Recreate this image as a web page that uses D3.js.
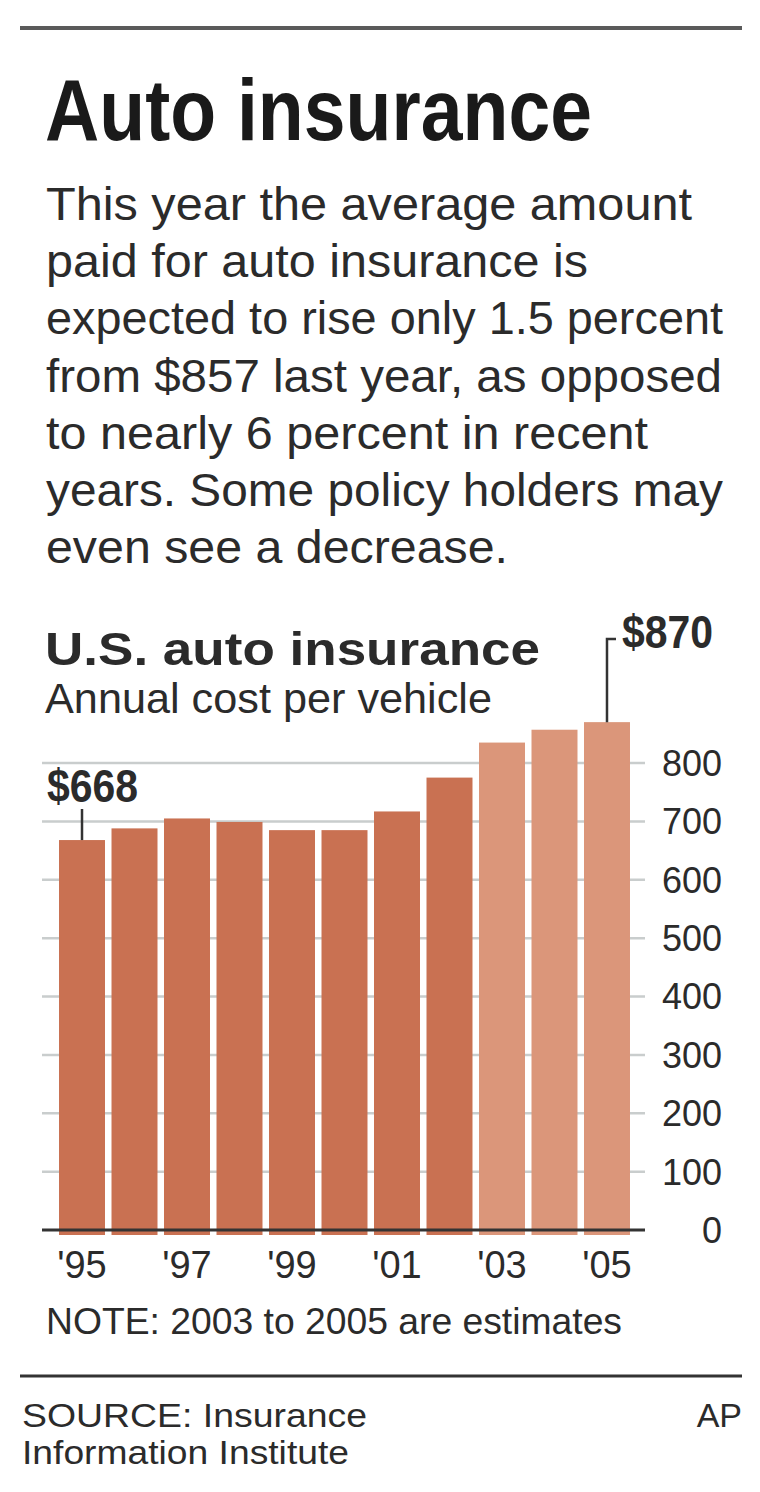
<!DOCTYPE html>
<html>
<head>
<meta charset="utf-8">
<script src="https://cdn.jsdelivr.net/npm/d3@7"></script>
<style>
  html, body { margin: 0; padding: 0; background: #fff; }
  svg { display: block; }
  text { font-family: "Liberation Sans", Arial, Helvetica, sans-serif; }
</style>
</head>
<body>
<div id="chart"></div>
<script>
// ---- data ----
const years = [1995, 1996, 1997, 1998, 1999, 2000, 2001, 2002, 2003, 2004, 2005];
const costs = [668, 688, 705, 699, 685, 685, 717, 775, 835, 857, 870];
const estimated = [false, false, false, false, false, false, false, false, true, true, true];
const yTicks = [0, 100, 200, 300, 400, 500, 600, 700, 800];
const xLabelYears = [1995, 1997, 1999, 2001, 2003, 2005];

const titleText = "Auto insurance";
const introLines = [
  "This year the average amount",
  "paid for auto insurance is",
  "expected to rise only 1.5 percent",
  "from $857 last year, as opposed",
  "to nearly 6 percent in recent",
  "years. Some policy holders may",
  "even see a decrease."
];
const chartTitle = "U.S. auto insurance";
const chartSubtitle = "Annual cost per vehicle";
const noteText = "NOTE: 2003 to 2005 are estimates";
const sourceLines = ["SOURCE: Insurance", "Information Institute"];
const creditText = "AP";

// ---- layout (pixel widths of text lines, matched to reference) ----
const introWidths = [646, 542, 677, 676, 602, 677, 462];
const sourceWidths = [345, 327];

// ---- setup ----
const W = 760, H = 1492;
const svg = d3.select("#chart").append("svg")
  .attr("width", W).attr("height", H);
svg.append("rect").attr("width", W).attr("height", H).attr("fill", "#fff");

const ink = "#2b2b2b";

// top rule
svg.append("line").attr("x1", 20).attr("x2", 742).attr("y1", 28).attr("y2", 28)
  .attr("stroke", "#5a5a5a").attr("stroke-width", 4);

// title
svg.append("text").attr("x", 45).attr("y", 140)
  .attr("font-size", 88).attr("font-weight", "bold").attr("fill", "#1a1a1a")
  .attr("textLength", 547).attr("lengthAdjust", "spacingAndGlyphs")
  .text(titleText);

// intro paragraph
svg.append("g").selectAll("text").data(introLines).join("text")
  .attr("x", 46).attr("y", (d, i) => 220 + i * 57.2)
  .attr("font-size", 46.5).attr("fill", ink)
  .attr("textLength", (d, i) => introWidths[i]).attr("lengthAdjust", "spacingAndGlyphs")
  .text(d => d);

// chart title
svg.append("text").attr("x", 45).attr("y", 665)
  .attr("font-size", 46).attr("font-weight", "bold").attr("fill", ink)
  .attr("textLength", 495).attr("lengthAdjust", "spacingAndGlyphs")
  .text(chartTitle);
svg.append("text").attr("x", 45).attr("y", 713)
  .attr("font-size", 42).attr("fill", ink)
  .attr("textLength", 447).attr("lengthAdjust", "spacingAndGlyphs")
  .text(chartSubtitle);

// scales
const x = d3.scaleBand().domain(years).range([52.5, 636.5]).padding(0.124);
const y = d3.scaleLinear().domain([0, 800]).range([1230, 763]);

// gridlines
svg.append("g").selectAll("line").data(yTicks.filter(d => d > 0)).join("line")
  .attr("x1", 42).attr("x2", 645)
  .attr("y1", d => y(d)).attr("y2", d => y(d))
  .attr("stroke", "#c9cdcd").attr("stroke-width", 2.5);

// bars
svg.append("g").selectAll("rect").data(years).join("rect")
  .attr("x", d => x(d))
  .attr("width", x.bandwidth())
  .attr("y", (d, i) => y(costs[i]))
  .attr("height", (d, i) => y(0) + 5 - y(costs[i]))
  .attr("fill", (d, i) => estimated[i] ? "#db967a" : "#c97152");

// baseline
svg.append("line").attr("x1", 42).attr("x2", 645)
  .attr("y1", y(0)).attr("y2", y(0))
  .attr("stroke", "#333").attr("stroke-width", 3);

// y tick labels (right side)
svg.append("g").selectAll("text").data(yTicks).join("text")
  .attr("x", 722).attr("y", d => y(d))
  .attr("dy", "0.36em")
  .attr("text-anchor", "end")
  .attr("font-size", 36).attr("fill", ink)
  .text(d => d);

// x labels
svg.append("g").selectAll("text").data(xLabelYears).join("text")
  .attr("x", d => x(d) + x.bandwidth() / 2)
  .attr("y", 1278)
  .attr("text-anchor", "middle")
  .attr("font-size", 38).attr("fill", ink)
  .text(d => "'" + String(d).slice(2));

// annotations
const firstIdx = 0, lastIdx = years.length - 1;
const cx0 = x(years[firstIdx]) + x.bandwidth() / 2;
svg.append("line").attr("x1", cx0).attr("x2", cx0)
  .attr("y1", 809).attr("y2", y(costs[firstIdx]))
  .attr("stroke", "#333").attr("stroke-width", 2.5);
svg.append("text").attr("x", 47).attr("y", 802)
  .attr("font-size", 46).attr("font-weight", "bold").attr("fill", ink)
  .attr("textLength", 91).attr("lengthAdjust", "spacingAndGlyphs")
  .text("$" + costs[firstIdx]);

const cx1 = x(years[lastIdx]) + x.bandwidth() / 2;
svg.append("path")
  .attr("d", `M${cx1},${y(costs[lastIdx])} V639 H${cx1 + 9}`)
  .attr("fill", "none").attr("stroke", "#333").attr("stroke-width", 2.5);
svg.append("text").attr("x", 622).attr("y", 648)
  .attr("font-size", 46).attr("font-weight", "bold").attr("fill", ink)
  .attr("textLength", 91).attr("lengthAdjust", "spacingAndGlyphs")
  .text("$" + costs[lastIdx]);

// note
svg.append("text").attr("x", 46).attr("y", 1334)
  .attr("font-size", 37).attr("fill", ink)
  .attr("textLength", 576).attr("lengthAdjust", "spacingAndGlyphs")
  .text(noteText);

// bottom rule
svg.append("line").attr("x1", 20).attr("x2", 742).attr("y1", 1376).attr("y2", 1376)
  .attr("stroke", "#333").attr("stroke-width", 3);

// source
svg.append("g").selectAll("text").data(sourceLines).join("text")
  .attr("x", 22).attr("y", (d, i) => 1427 + i * 37)
  .attr("font-size", 32.5).attr("fill", ink)
  .attr("textLength", (d, i) => sourceWidths[i]).attr("lengthAdjust", "spacingAndGlyphs")
  .text(d => d);
svg.append("text").attr("x", 742).attr("y", 1427)
  .attr("text-anchor", "end")
  .attr("font-size", 34).attr("fill", ink)
  .text(creditText);
</script>
</body>
</html>
